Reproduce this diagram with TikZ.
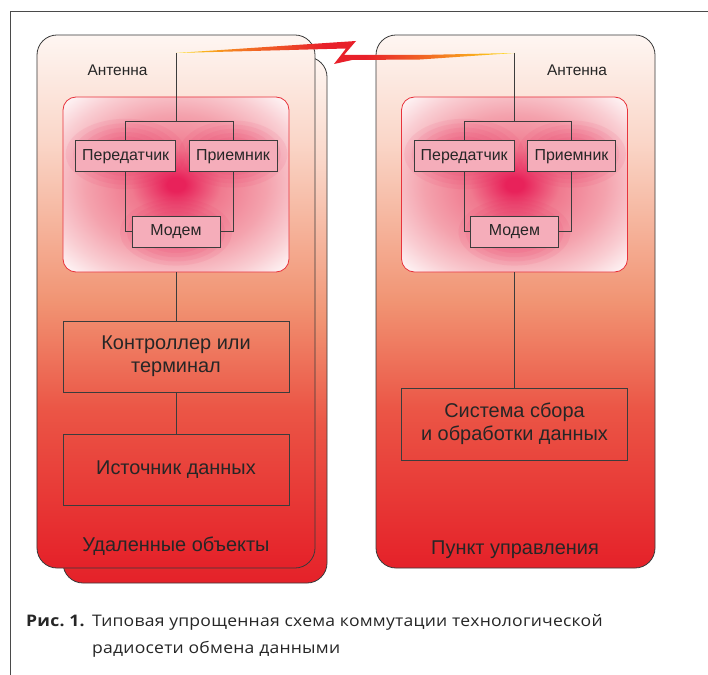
\documentclass[tikz,border=0pt]{standalone}
\usepackage{fontspec}
\setmainfont{Liberation Sans}
\newfontfamily\capfont[FakeStretch=1.1,LetterSpace=1.5]{Open Sans}

\definecolor{framegray}{HTML}{4A4A4A}
\definecolor{edgegray}{HTML}{3A3A3A}
\definecolor{linegray}{HTML}{3C3C3C}
\definecolor{textgray}{HTML}{262626}
\definecolor{innerred}{HTML}{E8323C}
\definecolor{pureW}{HTML}{FFFFFF}
\definecolor{pTop}{HTML}{FEF6F2}
\definecolor{pUp}{HTML}{FAD6C8}
\definecolor{pMid}{HTML}{F19473}
\definecolor{pLow}{HTML}{EB5646}
\definecolor{pBot}{HTML}{E52129}
\definecolor{gCore}{HTML}{E8225A}
\definecolor{gMid}{HTML}{F07A8F}
\definecolor{gSoft}{HTML}{F4A2AD}
\definecolor{gEdge}{HTML}{F9CDD2}
\definecolor{boxfill}{HTML}{F5ADBA}
\definecolor{bYel}{HTML}{FFE21A}
\definecolor{bOr}{HTML}{F47A22}
\definecolor{bRed}{HTML}{E8202A}

% panel body: light peach at the top, red at the bottom
\pgfdeclareverticalshading{panelshade}{100bp}{color(0bp)=(pBot); color(25bp)=(pBot); color(40bp)=(pLow); color(50bp)=(pMid); color(65bp)=(pUp); color(75bp)=(pTop); color(100bp)=(pTop)}
% radio link: yellow ends, red kink
\pgfdeclarehorizontalshading{boltshade}{100bp}{color(0bp)=(bYel); color(25bp)=(bYel); color(34bp)=(bOr); color(47bp)=(bRed); color(53bp)=(bRed); color(64bp)=(bOr); color(75bp)=(bYel); color(100bp)=(bYel)}
% radio module glow
\pgfdeclareradialshading{innerglow}{\pgfpoint{0bp}{0bp}}{color(0bp)=(gCore); color(2bp)=(gCore); color(10bp)=(gMid); color(20bp)=(gSoft); color(28bp)=(gEdge); color(36bp)=(pureW); color(50bp)=(pureW)}

\begin{document}
\begin{tikzpicture}[x=1bp,y=-1bp,
  panel/.style={draw=edgegray, line width=0.8bp, rounded corners=20bp, shade, shading=panelshade, inner sep=0pt},
  radiobox/.style={draw=innerred, line width=0.8bp, rounded corners=13bp, shade, shading=innerglow, inner sep=0pt,
    minimum width=226bp, minimum height=175bp},
  halo/.style={fill=gCore, fill opacity=0.075},
  unitbox/.style={draw=linegray, line width=1bp, fill=boxfill, inner sep=0pt, minimum height=31bp,
    text=textgray, font=\fontsize{16}{18}\selectfont},
  bigbox/.style={draw=linegray, line width=0.9bp, inner sep=0pt, minimum width=226bp, minimum height=71bp,
    align=center, text=textgray, font=\fontsize{20}{23}\selectfont},
  lbl/.style={text=textgray, inner sep=0pt, font=\fontsize{15.5}{17}\selectfont},
  biglbl/.style={text=textgray, inner sep=0pt, font=\fontsize{20}{23}\selectfont},
  wire/.style={draw=linegray, line width=0.9bp},
  caption/.style={text=textgray, inner sep=0pt, anchor=base west, font=\capfont\fontsize{16}{20}\selectfont}]

\useasboundingbox (0,0) rectangle (708,675);
\fill[white] (0,0) rectangle (708,675);

% page frame
\draw[framegray, line width=1bp] (10,675) -- (10,12) -- (708,12);

% panels
\node[panel, minimum width=264bp, minimum height=526bp] (remoteback) at (195,320) {};
\node[panel, minimum width=278bp, minimum height=533bp] (remote) at (176,301.5) {};
\node[panel, minimum width=279bp, minimum height=533bp] (control) at (515.5,301.5) {};

% radio modules
\node[radiobox] (innerL) at (176,184.5) {};
\node[radiobox] (innerR) at (514.5,184.5) {};

% soft glow around the units: stacked translucent ellipses
\foreach \dx in {0,338.5} {
  \foreach \k in {1,...,8} {
    \fill[halo] (125.7+\dx,154) ellipse ({7.5bp*\k} and {4.4bp*\k});
    \fill[halo] (233+\dx,154) ellipse ({6.8bp*\k} and {4.2bp*\k});
    \fill[halo] (176+\dx,232) ellipse ({7bp*\k} and {4.2bp*\k});
  }
}

% remote side units
\node[unitbox, minimum width=100bp] (txL) at (125.7,156.2) {Передатчик};
\node[unitbox, minimum width=88bp] (rxL) at (233,156.2) {Приемник};
\node[unitbox, minimum width=88bp] (modemL) at (176,231.5) {Модем};
\node[bigbox] (ctrlL) at (176,356.5) {Контроллер или\\терминал};
\node[bigbox] (srcL) at (176,470) {Источник данных};

% control side units
\node[unitbox, minimum width=100bp] (txR) at (464.2,156.2) {Передатчик};
\node[unitbox, minimum width=88bp] (rxR) at (571.5,156.2) {Приемник};
\node[unitbox, minimum width=88bp] (modemR) at (514.5,231.5) {Модем};
\node[bigbox, minimum height=72bp] (sysR) at (514.5,424) {Система сбора\\и обработки данных};

% labels
\node[lbl] (antTextL) at (117.5,70.5) {Антенна};
\node[lbl] (antTextR) at (577,70.5) {Антенна};
\node[biglbl] (remoteText) at (176,546) {Удаленные объекты};
\node[biglbl] (controlText) at (515,550) {Пункт управления};

% antenna tops and branch points
\coordinate (antL) at (176,53);
\coordinate (antR) at (514.5,53);
\coordinate (brL) at (176,121.5);
\coordinate (brR) at (514.5,121.5);

% wiring
\draw[wire] (antL) -- (brL);
\draw[wire] (txL.north) |- (brL) -| (rxL.north);
\draw[wire] (txL.south) |- (modemL.west);
\draw[wire] (rxL.south) |- (modemL.east);
\draw[wire] (innerL.south) -- (ctrlL.north);
\draw[wire] (ctrlL.south) -- (srcL.north);

\draw[wire] (antR) -- (brR);
\draw[wire] (txR.north) |- (brR) -| (rxR.north);
\draw[wire] (txR.south) |- (modemR.west);
\draw[wire] (rxR.south) |- (modemR.east);
\draw[wire] (innerR.south) -- (sysR.north);

% radio link
\path[shade, shading=boltshade] (antL) -- (356,41) -- (344,55) -- (420,55) -- (antR)
  -- (420,59.5) -- (352,60) -- (334,64) -- (346,48.5) -- cycle;

% caption
\node[caption] (figno) at (26,626) {\bfseries Рис.~1.};
\node[caption] (capA) at (92,626) {Типовая упрощенная схема коммутации технологической};
\node[caption] (capB) at (92,653) {радиосети обмена данными};

\end{tikzpicture}
\end{document}
